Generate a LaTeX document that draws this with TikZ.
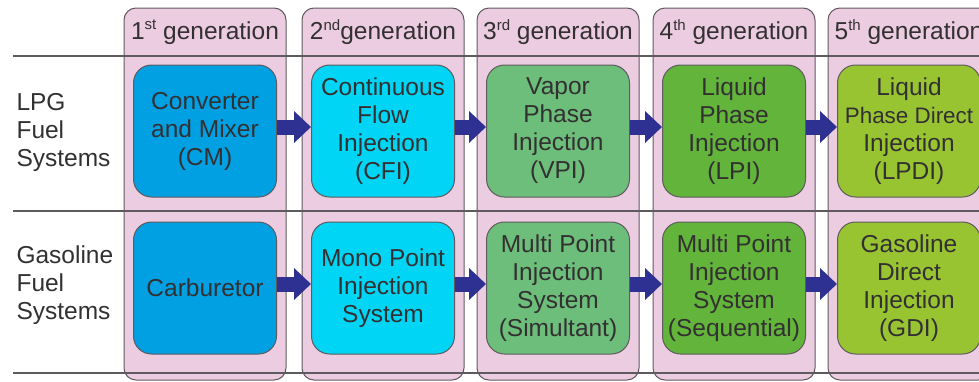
\documentclass[tikz,border=0pt]{standalone}
\usepackage{fontspec}
\setmainfont{Liberation Sans}
\usepackage{tikz}
\usetikzlibrary{arrows.meta}
\usetikzlibrary{positioning}

\definecolor{colpink}{RGB}{236,204,224}
\definecolor{colline}{RGB}{95,90,95}
\definecolor{txtgray}{RGB}{51,48,50}
\definecolor{gen1}{RGB}{0,160,227}
\definecolor{gen2}{RGB}{0,213,245}
\definecolor{gen3}{RGB}{108,190,122}
\definecolor{gen4}{RGB}{98,180,58}
\definecolor{gen5}{RGB}{153,196,50}
\definecolor{flownavy}{RGB}{46,49,146}

\newcommand{\gsup}[1]{\raisebox{0.75ex}{\fontsize{15}{15}\selectfont #1}}

\begin{document}
\begin{tikzpicture}
			[x=1pt,y=-1pt,every node/.style={text=txtgray,font=\fontsize{24.5}{28}\selectfont},
			colbox/.style={draw=colline,fill=colpink,line width=1pt,rounded corners=12pt},
			rule/.style={draw=colline,line width=1.3pt},
			fuel/.style={draw=colline,line width=1pt,rounded corners=18pt,minimum width=143pt,minimum height=132pt,align=center,inner sep=1pt},
			flow/.style={draw=flownavy,line width=15pt,-{Triangle[width=31pt,length=17pt]}}]
			\useasboundingbox (0,0) rectangle (979,381);
			\clip (0,0) rectangle (979,381);
			
			\foreach \x in {205,383,558,734,909}
			\draw[colbox] (\x-81,8) rectangle (\x+81,380);
			
			\draw[rule] (13,56) -- (979,56);
			\draw[rule] (13,211) -- (979,211);
			\draw[rule] (13,373) -- (979,373);
			
			\node (h1) at (205,32) {1\gsup{st} generation};
			\node (h2) at (383,32) {2\gsup{nd}generation};
			\node (h3) at (558,32) {3\gsup{rd} generation};
			\node (h4) at (734,32) {4\gsup{th} generation};
			\node (h5) at (909,32) {5\gsup{th} generation};
			
			\node[align=left,anchor=west] (lpg) at (13,132) {LPG\\Fuel\\Systems};
			\node[align=left,anchor=west] (gas) at (13,285) {Gasoline\\Fuel\\Systems};
			
			\node[fuel,fill=gen1] (l1) at (205,131) {Converter\\and Mixer\\(CM)};
			\node[fuel,fill=gen2] (l2) at (383,131) {Continuous\\Flow\\Injection\\(CFI)};
			\node[fuel,fill=gen3] (l3) at (558,131) {Vapor\\Phase\\Injection\\(VPI)};
			\node[fuel,fill=gen4] (l4) at (734,131) {Liquid\\Phase\\Injection\\(LPI)};
			\node[fuel,fill=gen5] (l5) at (909,131) {Liquid\\{\fontsize{22.4}{28}\selectfont Phase Direct}\\Injection\\(LPDI)};
			
			\node[fuel,fill=gen1] (g1) at (205,288) {Carburetor};
			\node[fuel,fill=gen2] (g2) at (383,288) {Mono Point\\Injection\\System};
			\node[fuel,fill=gen3] (g3) at (558,288) {Multi Point\\Injection\\System\\(Simultant)};
			\node[fuel,fill=gen4] (g4) at (734,288) {Multi Point\\Injection\\System\\(Sequential)};
			\node[fuel,fill=gen5] (g5) at (909,288) {Gasoline\\Direct\\Injection\\(GDI)};
			
			\foreach \from/\to in 
			{l1/l2, l2/l3, l3/l4, l4/l5, g1/g2, g2/g3, g3/g4, g4/g5}
			\draw[flow] ([yshift=4pt]\from.east) -- ([yshift=4pt]\to.west);
			\end{tikzpicture}
\end{document}
